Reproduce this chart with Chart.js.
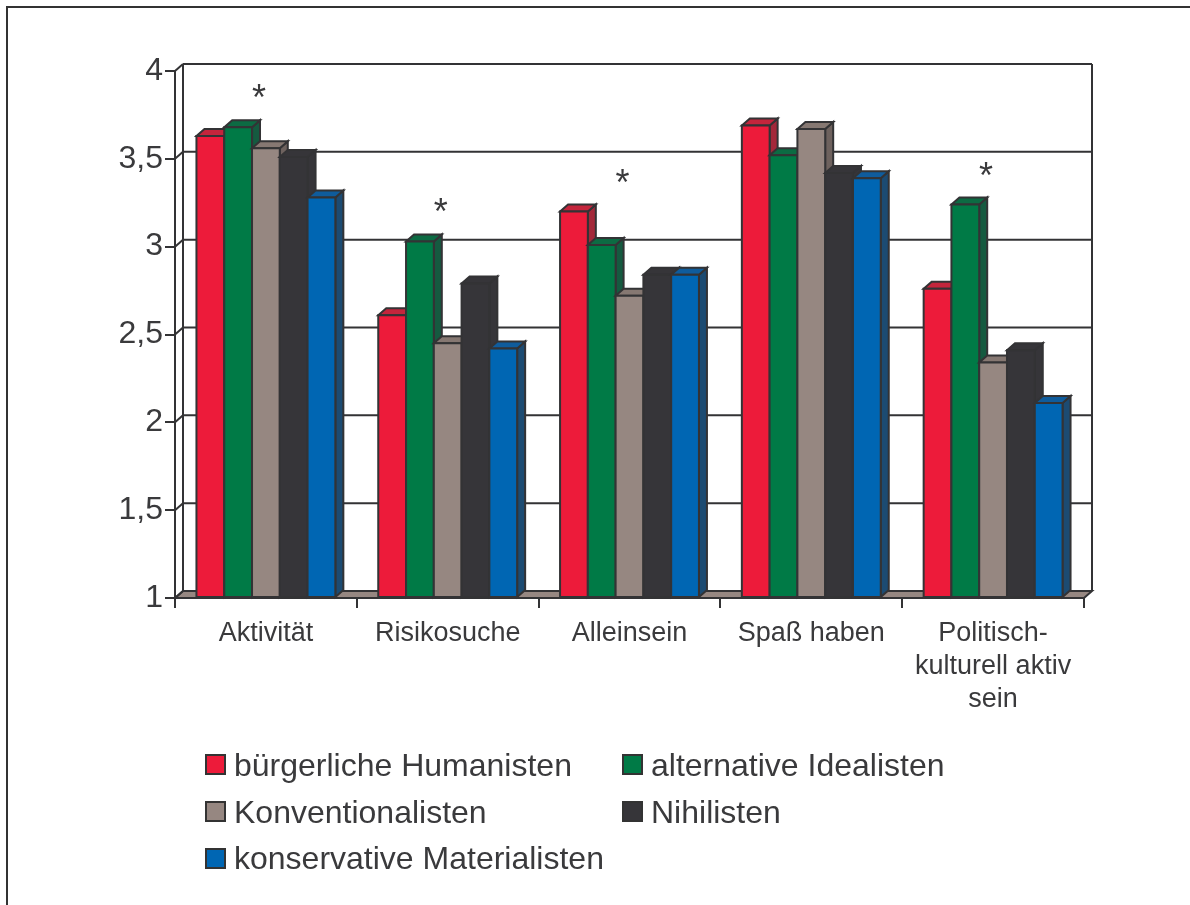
<!DOCTYPE html>
<html>
<head>
<meta charset="utf-8">
<script src="https://cdn.jsdelivr.net/npm/chart.js@4.4.0/dist/chart.umd.min.js"></script>
<style>
html,body{margin:0;padding:0;background:#fff;}
#wrap{position:relative;width:1190px;height:905px;overflow:hidden;background:#fff;}
#frame{position:absolute;left:6px;top:6px;width:1300px;height:1000px;border-left:2px solid #333;border-top:2px solid #333;box-sizing:border-box;pointer-events:none;}
#chart{position:absolute;left:0;top:0;}
#legend{position:absolute;left:0;top:0;font-family:"Liberation Sans",Arial,Helvetica,sans-serif;font-size:32px;color:#3a3a3c;}
.item{position:absolute;display:flex;align-items:center;height:46px;line-height:46px;white-space:nowrap;}
.box{width:21px;height:21px;border:2px solid #333;box-sizing:border-box;margin-right:8px;flex:none;}
</style>
</head>
<body>
<div id="wrap">
  <canvas id="chart" width="1190" height="905"></canvas>
  <div id="frame"></div>
  <div id="legend"></div>
</div>
<script>
// ---------- data ----------
const categories = ['Aktivität', 'Risikosuche', 'Alleinsein', 'Spaß haben', ['Politisch-', 'kulturell aktiv', 'sein']];
const seriesNames = ['bürgerliche Humanisten', 'alternative Idealisten', 'Konventionalisten', 'Nihilisten', 'konservative Materialisten'];
const buergerlicheHumanisten    = [3.63, 2.61, 3.20, 3.69, 2.76];
const alternativeIdealisten     = [3.68, 3.03, 3.01, 3.52, 3.24];
const konventionalisten         = [3.56, 2.45, 2.72, 3.67, 2.34];
const nihilisten                = [3.51, 2.79, 2.84, 3.42, 2.41];
const konservativeMaterialisten = [3.28, 2.42, 2.84, 3.39, 2.11];
const significant = [true, true, true, false, true];
const yTicks = [1, 1.5, 2, 2.5, 3, 3.5, 4];

// ---------- styles ----------
const frontColors = ['#ED1B3A', '#007A46', '#968781', '#363539', '#0066B3'];
const topColors   = ['#C4253C', '#0C6B43', '#867872', '#363539', '#0F5C9C'];
const sideColors  = ['#A3283A', '#155A40', '#6E625E', '#363539', '#1C4B72'];
const lineColor = '#333335';
const textColor = '#3a3a3c';
const FONT = '"Liberation Sans", Arial, Helvetica, sans-serif';
const DX = 8, DY = 7;

const seriesValues = [buergerlicheHumanisten, alternativeIdealisten, konventionalisten, nihilisten, konservativeMaterialisten];

function poly(ctx, pts, fill) {
  ctx.beginPath();
  ctx.moveTo(pts[0][0], pts[0][1]);
  for (let k = 1; k < pts.length; k++) ctx.lineTo(pts[k][0], pts[k][1]);
  ctx.closePath();
  if (fill) { ctx.fillStyle = fill; ctx.fill(); }
  ctx.stroke();
}
function line(ctx, x1, y1, x2, y2) {
  ctx.beginPath(); ctx.moveTo(x1, y1); ctx.lineTo(x2, y2); ctx.stroke();
}

const threeD = {
  id: 'threeD',
  beforeDatasetsDraw(chart) {
    const ctx = chart.ctx, a = chart.chartArea, y = chart.scales.y;
    const yb = y.getPixelForValue(y.min);
    const yt = y.getPixelForValue(y.max);
    ctx.save();
    ctx.strokeStyle = lineColor;
    ctx.lineWidth = 2;
    ctx.lineJoin = 'miter';
    // floor
    poly(ctx, [[a.left, yb], [a.right, yb], [a.right + DX, yb - DY], [a.left + DX, yb - DY]], frontColors[2]);
    // back wall grid lines + left wall connectors
    yTicks.forEach(v => {
      const py = y.getPixelForValue(v);
      line(ctx, a.left, py, a.left + DX, py - DY);
      line(ctx, a.left + DX, py - DY, a.right + DX, py - DY);
    });
    // back wall verticals
    line(ctx, a.left + DX, yt - DY, a.left + DX, yb - DY);
    line(ctx, a.right + DX, yt - DY, a.right + DX, yb - DY);
    ctx.restore();
  },
  afterDatasetsDraw(chart) {
    const ctx = chart.ctx, xs = chart.scales.x, ys = chart.scales.y;
    const floorY = ys.getPixelForValue(ys.min);
    ctx.save();
    ctx.strokeStyle = lineColor;
    ctx.lineWidth = 2;
    ctx.lineJoin = 'miter';
    const n = chart.data.labels.length;
    for (let i = 0; i < n; i++) {
      let minTop = Infinity;
      chart.data.datasets.forEach((ds, d) => {
        const el = chart.getDatasetMeta(d).data[i];
        const p = el.getProps(['x', 'y', 'base', 'width'], true);
        const x0 = p.x - p.width / 2, x1 = p.x + p.width / 2;
        const top = p.y, base = Math.min(p.base, floorY);
        minTop = Math.min(minTop, top);
        poly(ctx, [[x1, top], [x1 + DX, top - DY], [x1 + DX, base - DY], [x1, base]], sideColors[d]);
        poly(ctx, [[x0, top], [x1, top], [x1 + DX, top - DY], [x0 + DX, top - DY]], topColors[d]);
        poly(ctx, [[x0, top], [x1, top], [x1, base], [x0, base]], frontColors[d]);
      });
      if (significant[i]) {
        ctx.fillStyle = textColor;
        ctx.font = '36px ' + FONT;
        ctx.textAlign = 'center';
        ctx.textBaseline = 'alphabetic';
        const ay = minTop - DY - 31;
        ctx.fillText('*', xs.getPixelForValue(i) - 7, ay + 21);
      }
    }
    ctx.restore();
  }
};

const datasets = seriesNames.map((name, d) => ({
  label: name,
  data: seriesValues[d],
  base: 1,
  backgroundColor: frontColors[d],
  borderColor: lineColor,
  borderWidth: 2,
  borderSkipped: false,
  categoryPercentage: 0.764,
  barPercentage: 1.0
}));

new Chart(document.getElementById('chart'), {
  type: 'bar',
  data: { labels: categories, datasets },
  options: {
    responsive: false,
    animation: false,
    devicePixelRatio: 1,
    layout: { padding: { left: 0, top: 71, right: 106, bottom: 167 } },
    plugins: { legend: { display: false }, tooltip: { enabled: false } },
    scales: {
      x: {
        grid: { offset: true, drawOnChartArea: false, drawTicks: true, tickLength: 10, color: lineColor, lineWidth: 2 },
        border: { display: true, color: lineColor, width: 2 },
        ticks: { color: textColor, font: { family: FONT, size: 27, lineHeight: 1.23 }, padding: 9, maxRotation: 0, autoSkip: false },
        afterFit: s => { s.height = 140; }
      },
      y: {
        min: 1, max: 4,
        grid: { drawOnChartArea: false, drawTicks: true, tickLength: 10, color: lineColor, lineWidth: 2 },
        border: { display: true, color: lineColor, width: 2 },
        ticks: {
          stepSize: 0.5,
          color: textColor,
          padding: 2,
          font: { family: FONT, size: 32 },
          callback: v => String(v).replace('.', ',')
        },
        afterFit: s => { s.width = 175; }
      }
    }
  },
  plugins: [threeD]
});

// ---------- legend (HTML, real text) ----------
const legend = document.getElementById('legend');
const colLeft = [205, 622];
const rowCenter = [764.5, 811.5, 858];
seriesNames.forEach((name, d) => {
  const item = document.createElement('div');
  item.className = 'item';
  item.style.left = colLeft[d % 2] + 'px';
  item.style.top = (rowCenter[Math.floor(d / 2)] - 23) + 'px';
  const box = document.createElement('span');
  box.className = 'box';
  box.style.background = frontColors[d];
  const txt = document.createElement('span');
  txt.textContent = name;
  item.appendChild(box);
  item.appendChild(txt);
  legend.appendChild(item);
});
</script>
</body>
</html>
